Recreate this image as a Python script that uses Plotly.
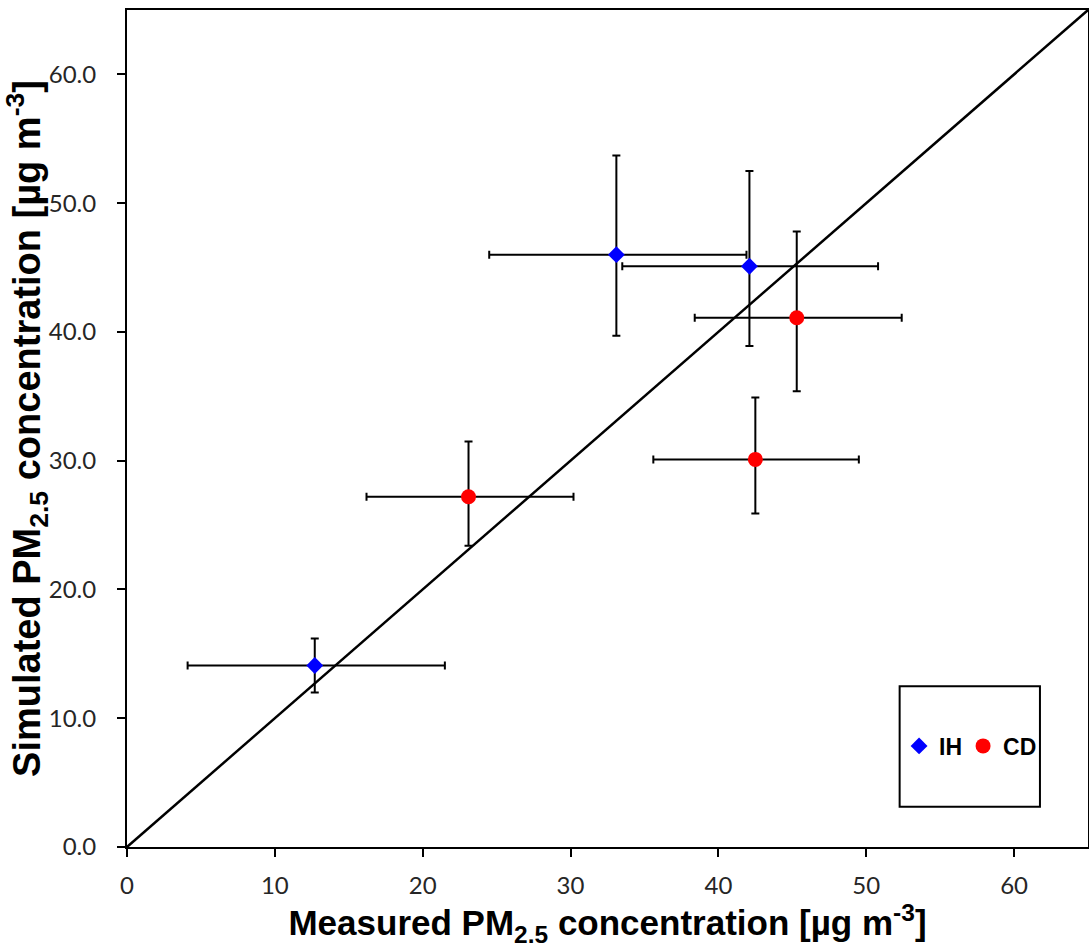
import plotly.graph_objects as go

# IH series
ih_x = [12.7, 33.1, 42.1]
ih_y = [14.1, 46.0, 45.1]
ih_x_plus = [8.8, 8.8, 8.7]
ih_x_minus = [8.6, 8.6, 8.6]
ih_y_plus = [2.1, 7.7, 7.4]
ih_y_minus = [2.1, 6.3, 6.2]

# CD series
cd_x = [23.1, 45.3, 42.5]
cd_y = [27.2, 41.1, 30.1]
cd_x_plus = [7.1, 7.1, 7.0]
cd_x_minus = [6.9, 6.9, 6.9]
cd_y_plus = [4.3, 6.7, 4.8]
cd_y_minus = [3.8, 5.7, 4.2]

# 1:1 line
line_x = [0, 65]
line_y = [0, 65]

x_ticks = [0, 10, 20, 30, 40, 50, 60]
y_ticks = [0, 10, 20, 30, 40, 50, 60]

fig = go.Figure()

fig.add_trace(go.Scatter(x=line_x, y=line_y, mode="lines",
                         line=dict(color="black", width=2.5),
                         showlegend=False, hoverinfo="skip"))

err_style = dict(color="black", thickness=2, width=4)

fig.add_trace(go.Scatter(
    x=ih_x, y=ih_y, mode="markers", name="IH", legend="legend",
    marker=dict(symbol="diamond", color="#0000FF", size=13),
    error_x=dict(type="data", symmetric=False, array=ih_x_plus, arrayminus=ih_x_minus, **err_style),
    error_y=dict(type="data", symmetric=False, array=ih_y_plus, arrayminus=ih_y_minus, **err_style),
))

fig.add_trace(go.Scatter(
    x=cd_x, y=cd_y, mode="markers", name="CD", legend="legend2",
    marker=dict(symbol="circle", color="#FF0000", size=15),
    error_x=dict(type="data", symmetric=False, array=cd_x_plus, arrayminus=cd_x_minus, **err_style),
    error_y=dict(type="data", symmetric=False, array=cd_y_plus, arrayminus=cd_y_minus, **err_style),
))

tick_font = dict(family="Lato, Liberation Sans, sans-serif", size=24, color="#262626")
legend_font = dict(family="Liberation Sans, Arial, sans-serif", size=23, color="black", weight="bold")

legend_common = dict(orientation="h", yanchor="middle", xanchor="left", y=0.1207,
                     bgcolor="rgba(0,0,0,0)", borderwidth=0, font=legend_font,
                     itemwidth=30)

fig.update_layout(
    width=1089, height=951,
    margin=dict(l=127, r=1, t=10, b=104),
    plot_bgcolor="white", paper_bgcolor="white",
    showlegend=True,
    legend=dict(x=0.8034, **legend_common),
    legend2=dict(x=0.870, **legend_common),
    shapes=[dict(type="rect", xref="paper", yref="paper",
                 x0=0.804, x1=0.950, y0=0.048, y1=0.192,
                 line=dict(color="black", width=2))],
)

fig.update_xaxes(
    range=[0, 65], tickvals=x_ticks, ticktext=[str(v) for v in x_ticks],
    showgrid=False, zeroline=False, automargin=False,
    showline=True, linecolor="black", linewidth=2, mirror=True,
    ticks="outside", ticklen=8, tickwidth=1.5, tickcolor="black",
    ticklabelstandoff=8,
    tickfont=tick_font,
    title=dict(text="<b>Measured PM<sub>2.5</sub> concentration [µg m<sup>-3</sup>]</b>",
               font=dict(family="Liberation Sans, Arial, sans-serif", size=35, color="black"),
               standoff=2),
)
fig.update_yaxes(
    range=[0, 65], tickvals=y_ticks, ticktext=[f"{v:.1f}" for v in y_ticks],
    showgrid=False, zeroline=False, automargin=False,
    showline=True, linecolor="black", linewidth=2, mirror=True,
    ticks="outside", ticklen=8, tickwidth=1.5, tickcolor="black",
    ticklabelstandoff=16,
    tickfont=tick_font,
    title=dict(text="<b>Simulated PM<sub>2.5</sub> concentration [µg m<sup>-3</sup>]</b>",
               font=dict(family="Liberation Sans, Arial, sans-serif", size=38, color="black"),
               standoff=2),
)

fig.write_html("out.html", config={"displayModeBar": False},
               post_script="document.body.style.margin='0';")
